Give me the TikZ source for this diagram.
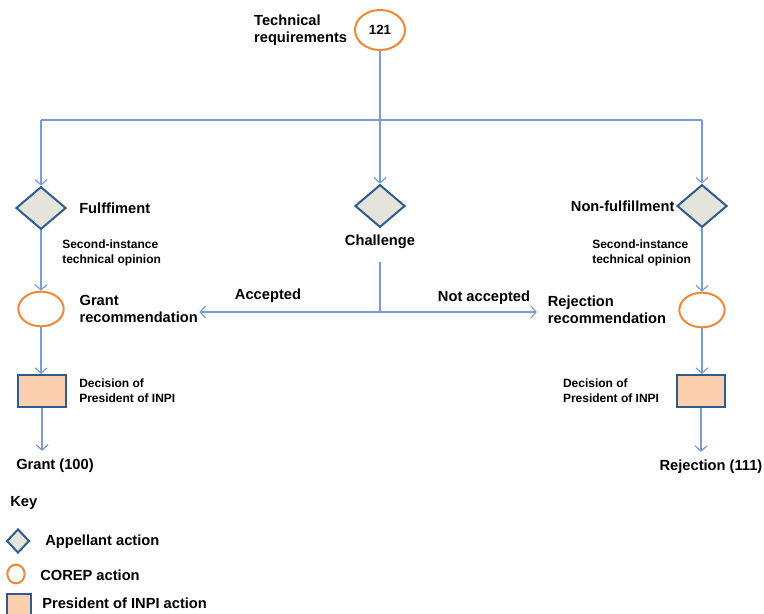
\documentclass[tikz,border=0pt]{standalone}
\usepackage{fontspec}
\setmainfont{Liberation Sans}
\usetikzlibrary{arrows.meta,positioning,shapes.geometric}
\definecolor{lnk}{HTML}{7A9CD6}
\definecolor{edg}{HTML}{2E5C8E}
\definecolor{orng}{HTML}{F0883A}
\definecolor{dfill}{HTML}{E4E4DA}
\definecolor{rfill}{HTML}{FCD0AF}
\tikzset{
  lbl/.style={font=\fontsize{11}{12.5}\selectfont\bfseries,align=left,inner sep=0pt},
  slbl/.style={lbl,font=\fontsize{9}{11}\selectfont\bfseries},
  appl/.style={diamond,draw=edg,line width=1.5pt,fill=dfill,minimum width=37.5pt,minimum height=32pt,inner sep=0pt},
  corep/.style={ellipse,draw=orng,line width=1.5pt,fill=white,minimum width=34pt,minimum height=26pt,inner sep=0pt},
  pres/.style={rectangle,draw=edg,line width=1.5pt,fill=rfill,minimum width=36pt,minimum height=24pt,inner sep=0pt},
  ln/.style={draw=lnk,line width=0.9pt},
  ar/.style={ln,-{Straight Barb[length=4pt,width=9pt]}},
}
\begin{document}
\begin{tikzpicture}[x=0.75pt,y=-0.75pt]
\useasboundingbox (0,0) rectangle (764,614);
% top of the tree
\node[corep,minimum width=37.5pt,minimum height=30pt] (req) at (380,30) {\bfseries 121};
\node[lbl,left=5pt of req] (reqtxt) {Technical\\requirements};
\coordinate (split) at (380,120);
\coordinate (lsplit) at (41,120);
\coordinate (rsplit) at (702,120);
\node[appl] (ful) at (41,208) {};
\node[appl] (chl) at (380,206) {};
\node[appl] (nful) at (702,206) {};
\draw[ln] (req) -- (split);
\draw[ln] (lsplit) -- (rsplit);
\draw[ar] (lsplit) -- (ful);
\draw[ar] (split) -- (chl);
\draw[ar] (rsplit) -- (nful);
\node[lbl,right=9pt of ful] (fultxt) {Fulffiment};
\node[lbl,left=1pt of nful] (nfultxt) {Non-fulfillment};
\node[lbl] (chltxt) at (380,242) {Challenge};
% second-instance opinions
\node[corep] (grec) at (41,309) {};
\node[corep] (rrec) at (702,310) {};
\draw[ar] (ful) -- (grec);
\draw[ar] (nful) -- (rrec);
\node[slbl,anchor=west] (lop) at (62,253) {Second-instance\\technical opinion};
\node[slbl,anchor=west] (rop) at (592,253) {Second-instance\\technical opinion};
\node[lbl,right=11pt of grec] (grectxt) {Grant\\recommendation};
\node[lbl,left=9pt of rrec] (rrectxt) {Rejection\\recommendation};
% challenge outcome
\coordinate (cbot) at (380,312);
\draw[ln] (chltxt.south) ++(0,13) -- (cbot);
\draw[ar] (cbot) -- ([xshift=1pt]cbot -| grectxt.east);
\draw[ar] (cbot) -- ([xshift=-8pt]cbot -| rrectxt.west);
\node[lbl] (acc) at (268,296) {Accepted};
\node[lbl] (nacc) at (484,298) {Not accepted};
% decisions
\node[pres] (gdec) at (42,391) {};
\node[pres] (rdec) at (701,391) {};
\draw[ar] (grec) -- (grec |- gdec.north);
\draw[ar] (rrec) -- (rrec |- rdec.north);
\node[slbl,right=9pt of gdec] (gdectxt) {Decision of\\President of INPI};
\node[slbl,left=12.5pt of rdec] (rdectxt) {Decision of\\President of INPI};
\node[lbl,anchor=west] (grant) at (16,466) {Grant (100)};
\node[lbl] (rej) at (711,467) {Rejection (111)};
\draw[ar,shorten >=6pt] (gdec) -- (gdec |- grant.north);
\draw[ar,shorten >=6pt] (rdec) -- (rdec |- rej.north);
% key
\node[lbl,anchor=west] (key) at (10,503) {Key};
\node[appl,minimum width=17pt,minimum height=18pt] (kappl) at (18,541) {};
\node[lbl,anchor=west] (kappltxt) at (45,542) {Appellant action};
\node[corep,minimum width=13pt,minimum height=14pt] (kcorep) at (16,574) {};
\node[lbl,anchor=west] (kcoreptxt) at (40,575) {COREP action};
\node[pres,minimum width=18pt,minimum height=18pt] (kpres) at (19,606) {};
\node[lbl,anchor=west] (kprestxt) at (42,603) {President of INPI action};
\end{tikzpicture}
\end{document}
